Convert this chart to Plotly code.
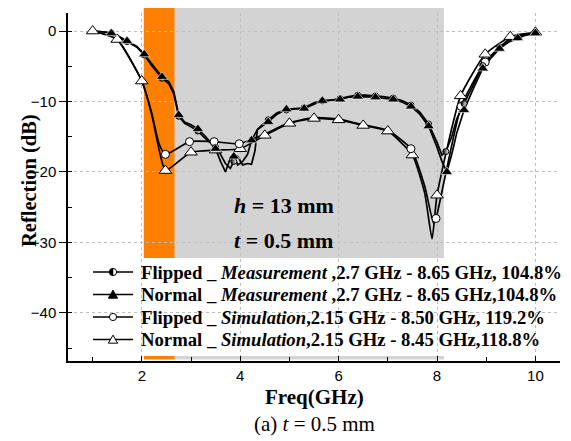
import math
import plotly.graph_objects as go

# ---------------- data ----------------
# Normal _ Simulation (open triangles)
ns_x = [1.0, 1.5, 2.0, 2.2, 2.35, 2.48, 3.0, 3.5, 4.0, 4.5, 5.0, 5.5, 6.0, 6.5, 7.0, 7.5, 7.75, 7.9, 8.0, 8.48, 8.98, 9.49, 10.0]
ns_y = [0.0, -1.2, -7.1, -11.8, -16.8, -19.8, -17.2, -16.9, -16.7, -14.8, -13.1, -12.4, -12.6, -13.4, -14.2, -17.6, -23.0, -29.5, -23.3, -9.2, -3.3, -0.8, -0.2]
ns_mx = [1.0, 1.5, 2.0, 2.48, 3.0, 3.5, 4.0, 4.5, 5.0, 5.5, 6.0, 6.5, 7.0, 7.5, 8.0, 8.48, 8.98, 9.49, 10.0]
ns_my = [0.0, -1.2, -7.1, -19.8, -17.2, -16.9, -16.7, -14.8, -13.1, -12.4, -12.6, -13.4, -14.2, -17.6, -23.3, -9.2, -3.3, -0.8, -0.2]

# Flipped _ Simulation (open circles)
fs_x = [1.0, 1.5, 2.0, 2.2, 2.35, 2.48, 2.97, 3.47, 3.98, 4.5, 5.0, 5.5, 6.0, 6.5, 7.0, 7.47, 7.75, 7.93, 7.98, 8.49, 8.98, 9.5, 10.0]
fs_y = [0.0, -1.2, -7.1, -11.6, -16.0, -17.5, -15.7, -15.7, -16.0, -14.6, -13.0, -12.3, -12.5, -13.3, -14.1, -16.7, -22.0, -27.3, -26.6, -10.7, -4.4, -1.0, -0.3]
fs_mx = [2.48, 2.97, 3.47, 3.98, 7.47, 7.98, 8.49, 8.98]
fs_my = [-17.5, -15.7, -15.7, -16.0, -16.7, -26.6, -10.7, -4.4]

# Normal _ Measurement (filled triangles)
nm_x = [1.0, 1.2, 1.38, 1.55, 1.7, 1.9, 2.05, 2.2, 2.41, 2.55, 2.65, 2.75, 2.87, 3.0, 3.14, 3.3, 3.5, 3.6, 3.7, 3.8, 3.87, 3.95, 4.05, 4.15, 4.23, 4.35, 4.45, 4.57, 4.75, 4.94, 5.1, 5.3, 5.5, 5.67, 5.85, 6.03, 6.2, 6.39, 6.55, 6.75, 6.9, 7.11, 7.3, 7.47, 7.65, 7.83, 8.0, 8.1, 8.2, 8.3, 8.4, 8.55, 8.75, 8.93, 9.1, 9.27, 9.45, 9.64, 9.8, 10.0]
nm_y = [0.0, -0.1, -0.3, -0.8, -1.4, -2.2, -3.3, -4.7, -6.5, -7.2, -8.6, -11.9, -12.9, -13.3, -13.9, -15.0, -16.7, -18.5, -20.0, -18.0, -17.8, -19.0, -18.5, -17.5, -15.5, -14.0, -13.5, -12.9, -11.8, -11.1, -11.0, -11.0, -10.4, -9.9, -9.8, -9.7, -9.4, -9.3, -9.3, -9.4, -9.5, -9.7, -10.1, -10.7, -11.8, -13.5, -16.5, -18.5, -20.0, -17.5, -14.5, -11.2, -8.0, -5.3, -3.8, -2.5, -1.6, -1.0, -0.6, -0.3]
nm_mx = [1.38, 1.7, 2.05, 2.41, 2.75, 3.14, 3.5, 3.87, 4.23, 4.57, 4.94, 5.3, 5.67, 6.03, 6.39, 6.75, 7.11, 7.47, 7.83, 8.2, 8.55, 8.93, 9.27, 9.64, 10.0]
nm_my = [-0.3, -1.4, -3.3, -6.5, -11.9, -13.9, -16.7, -17.8, -15.5, -12.9, -11.1, -11.0, -9.9, -9.7, -9.3, -9.4, -9.7, -10.7, -13.5, -20.0, -11.2, -5.3, -2.5, -1.0, -0.3]

# Flipped _ Measurement (half-filled circles)
fm_x = [1.0, 1.2, 1.38, 1.55, 1.7, 1.9, 2.05, 2.2, 2.41, 2.55, 2.65, 2.75, 2.87, 3.0, 3.14, 3.3, 3.5, 3.6, 3.7, 3.8, 3.87, 3.95, 4.05, 4.15, 4.23, 4.3, 4.35, 4.45, 4.57, 4.75, 4.94, 5.1, 5.3, 5.5, 5.67, 5.85, 6.03, 6.2, 6.39, 6.55, 6.75, 6.9, 7.11, 7.3, 7.47, 7.65, 7.83, 8.0, 8.1, 8.18, 8.3, 8.4, 8.55, 8.75, 8.93, 9.1, 9.27, 9.45, 9.64, 9.8, 10.0]
fm_y = [0.0, -0.1, -0.3, -0.9, -1.5, -2.3, -3.4, -4.9, -6.7, -7.5, -8.9, -12.1, -13.1, -13.6, -14.2, -15.3, -16.5, -17.5, -18.8, -19.5, -18.5, -17.8, -19.0, -18.8, -18.9, -17.0, -14.0, -13.3, -12.6, -11.6, -11.2, -11.1, -10.9, -10.2, -9.9, -9.8, -9.6, -9.3, -9.1, -9.1, -9.2, -9.3, -9.5, -9.9, -10.5, -11.5, -13.2, -15.8, -17.6, -17.1, -15.0, -12.5, -10.3, -7.4, -4.9, -3.5, -2.3, -1.4, -0.9, -0.5, -0.2]
fm_mx = [1.38, 1.7, 2.05, 2.41, 2.75, 3.14, 3.5, 3.87, 4.57, 4.94, 5.3, 5.67, 6.03, 6.39, 6.75, 7.11, 7.47, 7.83, 8.18, 8.55, 8.93, 9.27, 9.64, 10.0]
fm_my = [-0.3, -1.5, -3.4, -6.7, -12.1, -14.2, -16.5, -18.5, -12.6, -11.2, -10.9, -9.9, -9.6, -9.1, -9.2, -9.5, -10.5, -13.2, -17.1, -10.3, -4.9, -2.3, -0.9, -0.2]

legend_labels = [
    "<b>Flipped _ <i>Measurement</i> ,2.7 GHz - 8.65 GHz, 104.8%</b>",
    "<b>Normal _ <i>Measurement</i> ,2.7 GHz - 8.65 GHz,104.8%</b>",
    "<b>Flipped _ <i>Simulation</i>,2.15 GHz - 8.50 GHz, 119.2%</b>",
    "<b>Normal _ <i>Simulation</i>,2.15 GHz - 8.45 GHz,118.8%</b>",
]
legend_keys = ["fm", "nm", "fs", "ns"]
orange_band = [2.04, 2.67]
gray_band = [2.67, 8.14]
x_ticks = [2, 4, 6, 8, 10]
y_ticks = [0, -10, -20, -30, -40]

SERIF = "Liberation Serif, Times New Roman, serif"
SANS = "Liberation Sans, Arial, sans-serif"

W, H = 571, 441
ML, MR, MT, MB = 68, 11, 13, 80
PW, PH = W - ML - MR, H - MT - MB


def px(xp):  # pixel x -> paper
    return (xp - ML) / PW


def py(yp):  # pixel y -> paper
    return (H - MB - yp) / PH


sym = {
    "fm": dict(symbol="circle", size=6, color="black", line=dict(color="black", width=1),
               gradient=dict(type="horizontal", color="white")),
    "nm": dict(symbol="triangle-up", size=10, color="black", line=dict(color="white", width=0.6)),
    "fs": dict(symbol="circle", size=8, color="white", line=dict(color="black", width=1)),
    "ns": dict(symbol="triangle-up", size=11, color="white", line=dict(color="black", width=1)),
}

fig = go.Figure()

series = [
    ("ns", ns_x, ns_y, ns_mx, ns_my, "spline"),
    ("fs", fs_x, fs_y, fs_mx, fs_my, "spline"),
    ("fm", fm_x, fm_y, fm_mx, fm_my, "linear"),
    ("nm", nm_x, nm_y, nm_mx, nm_my, "linear"),
]
for key, x, y, mx, my, shape in series:
    fig.add_trace(go.Scatter(x=x, y=y, mode="lines", showlegend=False, hoverinfo="skip",
                             line=dict(color="black", width=1.7, shape=shape, smoothing=0.5)))
for key, x, y, mx, my, shape in series:
    fig.add_trace(go.Scatter(x=mx, y=my, mode="markers", showlegend=False, marker=sym[key]))

# shaded bands
fig.add_shape(type="rect", xref="x", yref="paper", x0=orange_band[0], x1=orange_band[1],
              y0=py(359.5), y1=py(8), fillcolor="#FF8000", line=dict(width=0), layer="below")
fig.add_shape(type="rect", xref="x", yref="paper", x0=gray_band[0], x1=gray_band[1],
              y0=py(359.5), y1=py(8), fillcolor="#D3D3D3", line=dict(width=0), layer="below")

# ---------------- legend (drawn by hand so the long labels can extend like the original) ----------------
fig.add_shape(type="rect", xref="paper", yref="paper", x0=px(69), x1=px(571), y0=py(356), y1=py(258),
              fillcolor="white", line=dict(width=0), layer="between")
row_y = [272, 294.5, 317, 339.5]
for key, lab, ry in zip(legend_keys, legend_labels, row_y):
    fig.add_shape(type="line", xref="paper", yref="paper", x0=px(93), x1=px(133), y0=py(ry), y1=py(ry),
                  line=dict(color="black", width=1.6), layer="above")
    cx, cy = 113, ry
    if key in ("fm", "fs"):
        r = 3.6
        fig.add_shape(type="circle", xref="paper", yref="paper", x0=px(cx - r), x1=px(cx + r),
                      y0=py(cy + r), y1=py(cy - r), fillcolor="white",
                      line=dict(color="black", width=1), layer="above")
        if key == "fm":
            pts = [(cx + r * math.cos(math.radians(a)), cy + r * math.sin(math.radians(a)))
                   for a in range(90, 271, 15)]
            path = "M" + " L".join(f"{px(a):.5f},{py(b):.5f}" for a, b in pts) + " Z"
            fig.add_shape(type="path", xref="paper", yref="paper", path=path, fillcolor="black",
                          line=dict(color="black", width=0.5), layer="above")
    else:
        s = 4.6
        path = (f"M{px(cx - s):.5f},{py(cy + s * 0.8):.5f} L{px(cx + s):.5f},{py(cy + s * 0.8):.5f} "
                f"L{px(cx):.5f},{py(cy - s * 0.95):.5f} Z")
        fig.add_shape(type="path", xref="paper", yref="paper", path=path,
                      fillcolor="black" if key == "nm" else "white",
                      line=dict(color="black", width=1), layer="above")
    fig.add_annotation(x=px(139), y=py(ry), xref="paper", yref="paper", xanchor="left", yanchor="middle",
                       showarrow=False, text=lab, font=dict(family=SERIF, size=18.7, color="black"))

# text annotations
fig.add_annotation(x=3.83, y=-24.7, xref="x", yref="y", xanchor="left", yanchor="middle", showarrow=False,
                   text="<b><i>h</i> = 13 mm</b>", font=dict(family=SERIF, size=22, color="black"))
fig.add_annotation(x=3.83, y=-29.7, xref="x", yref="y", xanchor="left", yanchor="middle", showarrow=False,
                   text="<b><i>t</i> = 0.5 mm</b>", font=dict(family=SERIF, size=22, color="black"))
fig.add_annotation(x=0.5, y=py(397), xref="paper", yref="paper", xanchor="center", yanchor="middle",
                   showarrow=False, text="<b>Freq(GHz)</b>", font=dict(family=SERIF, size=21, color="black"))
fig.add_annotation(x=0.5, y=py(424), xref="paper", yref="paper", xanchor="center", yanchor="middle",
                   showarrow=False, text="(a) <i>t</i> = 0.5 mm", font=dict(family=SERIF, size=21, color="black"))
fig.add_annotation(x=px(29), y=py(181), xref="paper", yref="paper",
                   xanchor="center", yanchor="middle", showarrow=False,
                   textangle=-90, text="<b>Reflection (dB)</b>",
                   font=dict(family=SERIF, size=20.5, color="black"))

fig.update_layout(
    width=W, height=H,
    margin=dict(l=ML, r=MR, t=MT, b=MB),
    plot_bgcolor="white", paper_bgcolor="white",
    showlegend=False,
    xaxis=dict(range=[0.5, 10.5], tickvals=x_ticks, ticks="inside", ticklen=5, tickcolor="black",
               minor=dict(dtick=1, tick0=0, ticks="inside", ticklen=4, tickcolor="black", showgrid=False),
               showline=True, linecolor="black", linewidth=1.5,
               showgrid=True, gridcolor="#bdbdbd", griddash="dot", gridwidth=1,
               zeroline=False, tickfont=dict(family=SANS, size=15, color="black")),
    yaxis=dict(range=[-46.83, 2.56], tickvals=y_ticks, ticks="outside", ticklen=7, tickcolor="black",
               minor=dict(dtick=5, tick0=0, ticks="inside", ticklen=4, tickcolor="black", showgrid=False),
               showline=True, linecolor="black", linewidth=1.5,
               showgrid=True, gridcolor="#bdbdbd", griddash="dot", gridwidth=1,
               zeroline=False, tickfont=dict(family=SANS, size=15, color="black")),
)

fig.write_html("out.html")
